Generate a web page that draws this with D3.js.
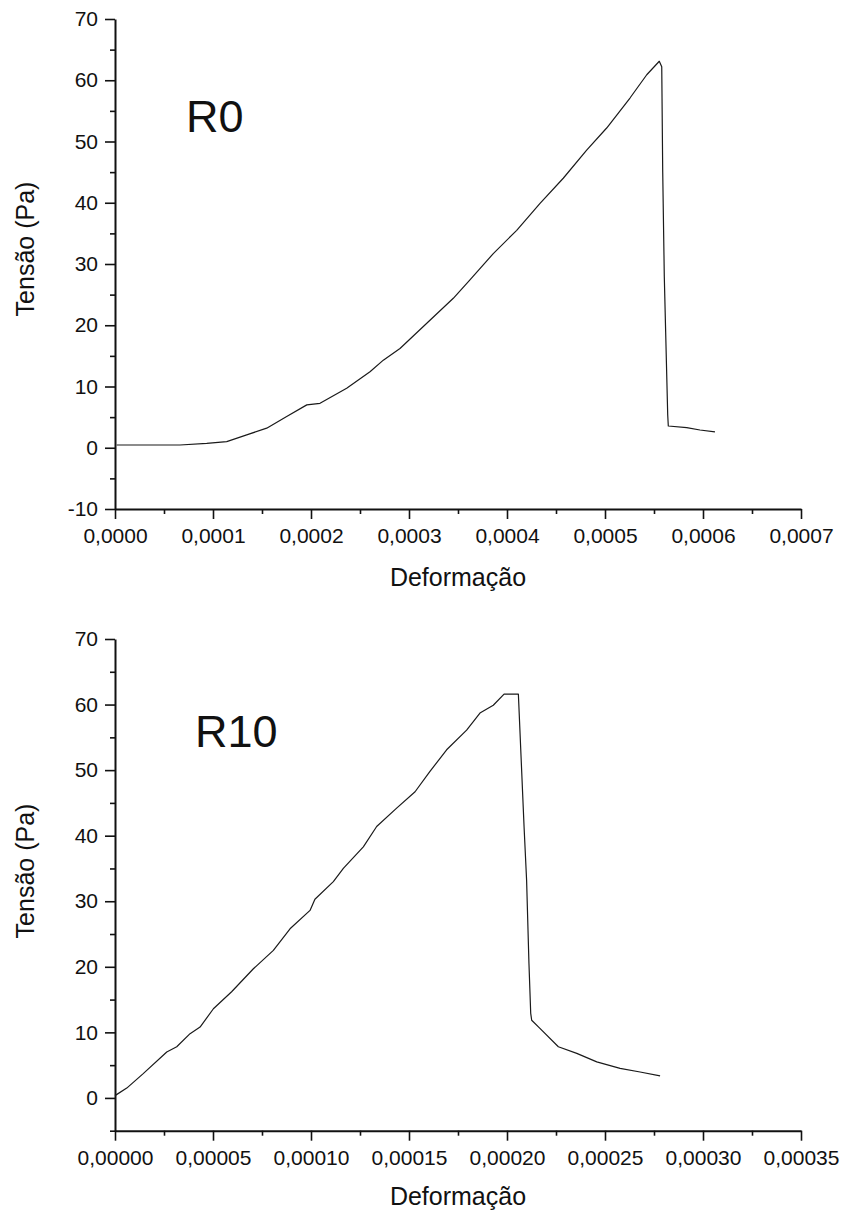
<!DOCTYPE html>
<html>
<head>
<meta charset="utf-8">
<script src="https://cdn.jsdelivr.net/npm/d3@7"></script>
<style>
  html, body { margin: 0; padding: 0; background: #fff; }
  svg { display: block; }
  text { font-family: "Liberation Sans", Arial, sans-serif; fill: #111; }
</style>
</head>
<body>
<svg id="chart" width="842" height="1212"></svg>
<script>
// ---------- DATA ----------
// Panel R0
const r0Strain = [0.0000017, 0.0000442, 0.0000663, 0.0000936, 0.000114, 0.0001344, 0.0001548, 0.0001752,
  0.0001957, 0.0002092, 0.0002364, 0.0002602, 0.0002738, 0.0002908, 0.0003452, 0.0003622, 0.000386,
  0.0004099, 0.0004337, 0.0004574, 0.0004813, 0.0005017, 0.0005255, 0.0005426, 0.0005554,
  0.0005579, 0.0005589, 0.0005605, 0.0005619, 0.000564, 0.0005646, 0.0005834, 0.0005969, 0.0006122];
const r0Stress = [0.45, 0.45, 0.45, 0.72, 1.0, 2.1, 3.2, 5.1,
  7.0, 7.25, 9.7, 12.4, 14.3, 16.2, 24.4, 27.4, 31.7,
  35.5, 39.9, 44.0, 48.6, 52.2, 57.1, 60.9, 63.1,
  62.2, 45.0, 28.0, 18.9, 5.35, 3.55, 3.3, 2.9, 2.6];

// Panel R10
const r10Strain = [0, 0.0000060, 0.0000144, 0.0000264, 0.0000315, 0.0000383, 0.0000434, 0.0000502,
  0.0000595, 0.0000706, 0.0000808, 0.0000893, 0.0000995, 0.000102, 0.0001114, 0.0001165, 0.0001267,
  0.0001335, 0.0001437, 0.0001531, 0.0001607, 0.0001692, 0.0001794, 0.0001862, 0.000193, 0.0001985,
  0.0002058, 0.0002087, 0.00021, 0.0002112, 0.0002121, 0.0002126, 0.0002168, 0.0002262, 0.0002356,
  0.0002458, 0.0002577, 0.0002679, 0.0002781];
const r10Stress = [0.35, 1.5, 3.7, 7.0, 7.8, 9.8, 10.8, 13.6,
  16.2, 19.7, 22.5, 25.8, 28.6, 30.3, 33.0, 35.0, 38.3,
  41.4, 44.2, 46.7, 49.8, 53.1, 56.1, 58.7, 59.9, 61.6,
  61.6, 41.4, 33.2, 20.5, 12.9, 11.85, 10.6, 7.8, 6.8,
  5.5, 4.5, 3.95, 3.35];

// Ticks
const r0XTicks = [0, 0.0001, 0.0002, 0.0003, 0.0004, 0.0005, 0.0006, 0.0007];
const r0XMinor = [0.00005, 0.00015, 0.00025, 0.00035, 0.00045, 0.00055, 0.00065];
const r0YTicks = [-10, 0, 10, 20, 30, 40, 50, 60, 70];
const r0YMinor = [-5, 5, 15, 25, 35, 45, 55, 65];

const r10XTicks = [0, 0.00005, 0.0001, 0.00015, 0.0002, 0.00025, 0.0003, 0.00035];
const r10XMinor = [0.000025, 0.000075, 0.000125, 0.000175, 0.000225, 0.000275, 0.000325];
const r10YTicks = [0, 10, 20, 30, 40, 50, 60, 70];
const r10YMinor = [-5, 5, 15, 25, 35, 45, 55, 65];

const xTitle = "Deformação";
const yTitle = "Tensão (Pa)";
const panelLabels = ["R0", "R10"];

// ---------- DRAW ----------
const svg = d3.select("#chart");

function panel(cfg) {
  const x = d3.scaleLinear().domain(cfg.xDomain).range([115, 801]);
  const y = d3.scaleLinear().domain(cfg.yDomain).range([cfg.yBottom, cfg.yTop]);
  const g = svg.append("g");

  const fmtX = v => d3.format("." + cfg.xDec + "f")(v).replace(".", ",");
  const fmtY = v => d3.format("d")(v).replace("−", "-");

  // minor ticks
  g.append("g").attr("transform", `translate(0,${cfg.yBottom})`)
    .call(d3.axisBottom(x).tickValues(cfg.xMinor).tickSize(5).tickSizeOuter(0).tickFormat(""))
    .call(s => s.select(".domain").remove());
  g.append("g").attr("transform", `translate(115,0)`)
    .call(d3.axisLeft(y).tickValues(cfg.yMinor).tickSize(5).tickSizeOuter(0).tickFormat(""))
    .call(s => s.select(".domain").remove());

  // major axes
  const xa = g.append("g").attr("transform", `translate(0,${cfg.yBottom})`)
    .call(d3.axisBottom(x).tickValues(cfg.xTicks).tickSize(10).tickSizeOuter(0).tickPadding(9).tickFormat(fmtX));
  const ya = g.append("g").attr("transform", `translate(115,0)`)
    .call(d3.axisLeft(y).tickValues(cfg.yTicks).tickSize(10).tickSizeOuter(0).tickPadding(7).tickFormat(fmtY));

  g.selectAll(".tick line").attr("stroke", "#111").attr("stroke-width", 1.6);
  g.selectAll(".domain").attr("stroke", "#111").attr("stroke-width", 2);
  g.selectAll(".tick text").attr("font-size", 21).attr("fill", "#111")
    .attr("font-family", '"Liberation Sans", Arial, sans-serif');

  // line
  const pts = cfg.xs.map((v, i) => [v, cfg.ys[i]]);
  g.append("path").datum(pts)
    .attr("fill", "none").attr("stroke", "#1a1a1a").attr("stroke-width", 1.2)
    .attr("stroke-linejoin", "round")
    .attr("d", d3.line().x(d => x(d[0])).y(d => y(d[1])));

  // titles
  g.append("text").attr("x", 458).attr("y", cfg.xTitleY).attr("text-anchor", "middle")
    .attr("font-size", 25).text(xTitle);
  g.append("text").attr("transform", `translate(${cfg.yTitleX},${cfg.yTitleC}) rotate(-90)`)
    .attr("text-anchor", "middle").attr("font-size", 25).text(yTitle);

  // panel label
  g.append("text").attr("x", cfg.labX).attr("y", cfg.labY).attr("font-size", 45).text(cfg.label);
}

panel({
  xDomain: [0, 0.0007], yDomain: [-10, 70], yTop: 19, yBottom: 509,
  xTicks: r0XTicks, xMinor: r0XMinor, yTicks: r0YTicks, yMinor: r0YMinor, xDec: 4,
  xs: r0Strain, ys: r0Stress, xTitleY: 586, yTitleX: 34, yTitleC: 249,
  label: panelLabels[0], labX: 186, labY: 132
});
panel({
  xDomain: [0, 0.00035], yDomain: [-5, 70], yTop: 639, yBottom: 1130.7,
  xTicks: r10XTicks, xMinor: r10XMinor, yTicks: r10YTicks, yMinor: r10YMinor, xDec: 5,
  xs: r10Strain, ys: r10Stress, xTitleY: 1205, yTitleX: 34, yTitleC: 871,
  label: panelLabels[1], labX: 195, labY: 747
});
</script>
</body>
</html>
